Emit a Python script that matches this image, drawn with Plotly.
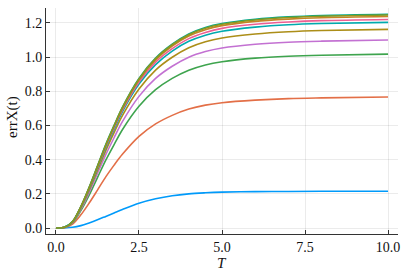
import plotly.graph_objects as go

t = [0, 0.25, 0.5, 0.75, 1, 1.25, 1.5, 1.75, 2, 2.5, 3, 3.5, 4, 4.5, 5, 6, 7, 8, 10]

s1 = [0, 0.0004, 0.004, 0.014, 0.030, 0.048, 0.068, 0.088, 0.108, 0.145, 0.171, 0.189, 0.200, 0.206, 0.210, 0.213, 0.214, 0.215, 0.215]
s2 = [0, 0.002, 0.023, 0.077, 0.146, 0.222, 0.299, 0.368, 0.431, 0.536, 0.609, 0.659, 0.696, 0.719, 0.733, 0.748, 0.757, 0.761, 0.766]
s3 = [0, 0.003, 0.031, 0.102, 0.193, 0.295, 0.397, 0.488, 0.575, 0.712, 0.809, 0.875, 0.923, 0.954, 0.973, 0.994, 1.005, 1.011, 1.017]
s4 = [0, 0.003, 0.033, 0.110, 0.209, 0.319, 0.429, 0.528, 0.622, 0.770, 0.875, 0.946, 0.999, 1.032, 1.053, 1.075, 1.087, 1.093, 1.100]
s5 = [0, 0.003, 0.035, 0.116, 0.221, 0.337, 0.453, 0.558, 0.657, 0.813, 0.924, 0.999, 1.055, 1.090, 1.112, 1.135, 1.148, 1.155, 1.162]
s6 = [0, 0.004, 0.036, 0.120, 0.229, 0.349, 0.469, 0.577, 0.680, 0.842, 0.956, 1.035, 1.092, 1.128, 1.151, 1.175, 1.189, 1.196, 1.203]
s7 = [0, 0.004, 0.037, 0.122, 0.232, 0.354, 0.476, 0.586, 0.689, 0.854, 0.970, 1.049, 1.108, 1.144, 1.168, 1.192, 1.205, 1.213, 1.220]
s8 = [0, 0.004, 0.037, 0.124, 0.235, 0.359, 0.482, 0.594, 0.699, 0.866, 0.983, 1.064, 1.123, 1.160, 1.184, 1.209, 1.222, 1.230, 1.237]
s9 = [0, 0.004, 0.038, 0.125, 0.238, 0.363, 0.488, 0.600, 0.706, 0.875, 0.994, 1.075, 1.135, 1.173, 1.196, 1.221, 1.235, 1.243, 1.250]
s10 = [0, 0.004, 0.037, 0.125, 0.237, 0.361, 0.486, 0.598, 0.704, 0.872, 0.991, 1.072, 1.131, 1.169, 1.192, 1.217, 1.231, 1.239, 1.246]

series = [s1, s2, s3, s4, s5, s6, s7, s8, s9, s10]
colors = ["#009AFA", "#E36F47", "#3EA44E", "#C371D2", "#AC8E18",
          "#00AAAE", "#ED5E93", "#C68225", "#00A98D", "#8E971D"]

xticks = [0, 2.5, 5, 7.5, 10]
xticklabels = ["0.0", "2.5", "5.0", "7.5", "10.0"]
yticks = [0, 0.2, 0.4, 0.6, 0.8, 1.0, 1.2]
yticklabels = ["0.0", "0.2", "0.4", "0.6", "0.8", "1.0", "1.2"]

fig = go.Figure()
for s, c in zip(series, colors):
    fig.add_trace(go.Scatter(x=t, y=s, mode="lines",
                             line=dict(color=c, width=1.6, shape="spline", smoothing=0.9),
                             showlegend=False, hoverinfo="skip"))

font_family = "Liberation Serif"
axis_common = dict(
    showgrid=True, gridcolor="rgba(0,0,0,0.08)", gridwidth=1,
    zeroline=False, showline=True, linecolor="#333", linewidth=1,
    ticks="inside", ticklen=4, tickcolor="#333",
    tickfont=dict(family=font_family, size=14, color="#111"),
    mirror=False, automargin=False,
)
L, R, T, B = 46, 9, 8, 37
fig.update_layout(
    width=407, height=271,
    margin=dict(l=L, r=R, t=T, b=B),
    paper_bgcolor="white", plot_bgcolor="white",
    font=dict(family=font_family, color="#111"),
    xaxis=dict(range=[-0.3, 10.3], tickvals=xticks, ticktext=xticklabels, **axis_common),
    yaxis=dict(range=[-0.035, 1.287], tickvals=yticks, ticktext=yticklabels, **axis_common),
)
pw, ph = 407 - L - R, 271 - T - B
fig.add_annotation(text="<i>T</i>", xref="paper", yref="paper",
                   x=(222 - L) / pw, y=(271 - B - 263) / ph, showarrow=False,
                   xanchor="center", yanchor="middle",
                   font=dict(family=font_family, size=15, color="#111"))
fig.add_annotation(text="errX(t)", xref="paper", yref="paper",
                   x=(12 - L) / pw, y=(271 - B - 117) / ph, showarrow=False,
                   xanchor="center", yanchor="middle", textangle=-90,
                   font=dict(family=font_family, size=15, color="#111"))

fig.write_html("out.html", config={"displayModeBar": False},
               post_script="document.body.style.margin='0';")
